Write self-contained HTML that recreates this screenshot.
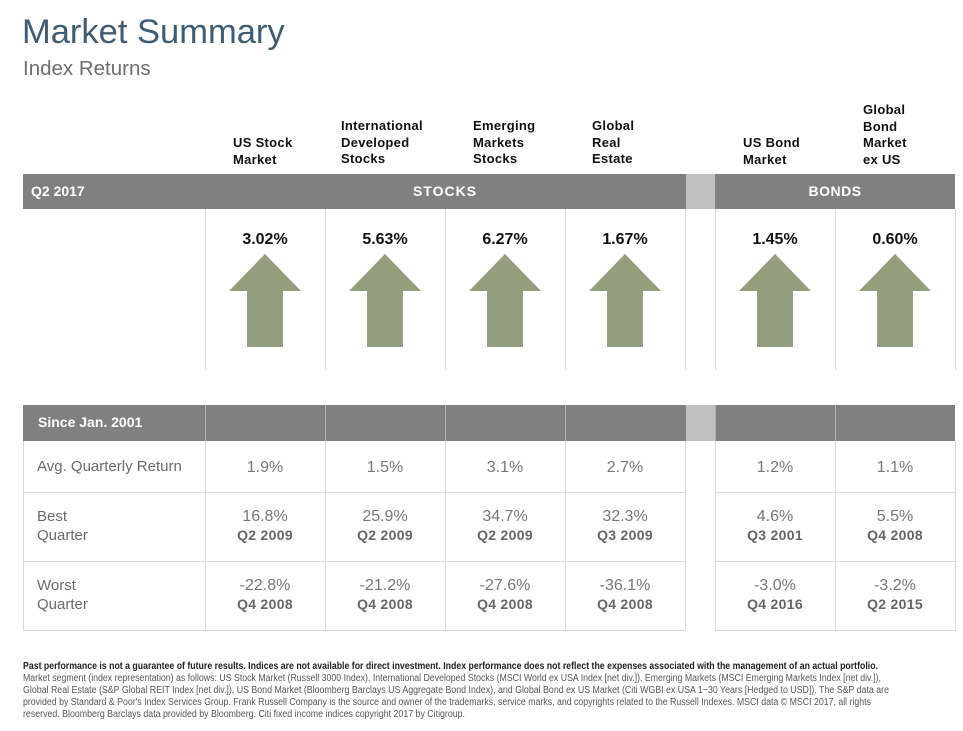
<!DOCTYPE html>
<html><head><meta charset="utf-8"><style>
body{margin:0;width:963px;height:731px;background:#fff;position:relative;overflow:hidden;font-family:"Liberation Sans",Arial,sans-serif}
.a{position:absolute}
.ch{position:absolute;font-size:13px;font-weight:bold;color:#111;line-height:16.5px;letter-spacing:0.3px}
.bar{position:absolute;background:#808080}
.vl{position:absolute;width:1px;background:#d8d8d8}
.hl{position:absolute;height:1px;background:#d8d8d8}
.lbl{position:absolute;font-size:15px;color:#6a6a6a;line-height:19px}
.val{position:absolute;width:120px;text-align:center;font-size:16px;color:#777;line-height:19px}
.val b{display:block;font-size:14px;color:#666;letter-spacing:0.3px}
</style></head><body>
<div class="a" style="left:22px;top:13px;font-size:34.5px;color:#3e5c72">Market Summary</div>
<div class="a" style="left:23px;top:57px;font-size:20.5px;color:#6e6e6e">Index Returns</div>

<div class="ch" style="left:233px;top:135px">US Stock<br>Market</div>
<div class="ch" style="left:341px;top:118px">International<br>Developed<br>Stocks</div>
<div class="ch" style="left:473px;top:118px">Emerging<br>Markets<br>Stocks</div>
<div class="ch" style="left:592px;top:118px">Global<br>Real<br>Estate</div>
<div class="ch" style="left:743px;top:135px">US Bond<br>Market</div>
<div class="ch" style="left:863px;top:102px">Global<br>Bond<br>Market<br>ex US</div>

<div class="bar" style="left:23px;top:174px;width:932px;height:35px"></div>
<div class="a" style="left:686px;top:174px;width:29px;height:35px;background:#c0c0c0"></div>
<div class="a" style="left:31px;top:183px;color:#fff;font-weight:bold;font-size:14px">Q2 2017</div>
<div class="a" style="left:205px;width:480px;text-align:center;top:183px;color:#fff;font-weight:bold;font-size:14px;letter-spacing:1px">STOCKS</div>
<div class="a" style="left:715px;width:240px;text-align:center;top:183px;color:#fff;font-weight:bold;font-size:14px;letter-spacing:0.5px">BONDS</div>

<div id="top"></div>

<div class="bar" style="left:23px;top:405px;width:932px;height:36px"></div>
<div class="a" style="left:686px;top:405px;width:29px;height:36px;background:#c0c0c0"></div>
<div class="a" style="left:38px;top:414px;color:#fff;font-weight:bold;font-size:14px">Since Jan. 2001</div>
<div id="bot"></div>

<div class="lbl" style="left:37px;top:457px">Avg. Quarterly Return</div>
<div class="lbl" style="left:37px;top:507px">Best<br>Quarter</div>
<div class="lbl" style="left:37px;top:576px">Worst<br>Quarter</div>

<svg class="a" style="left:0;top:655px" width="963" height="76">
<g font-family="Liberation Sans, Arial, sans-serif" font-size="10" fill="#555" lengthAdjust="spacingAndGlyphs">
<text x="23" y="14" textLength="855" lengthAdjust="spacingAndGlyphs" font-weight="bold" fill="#222">Past performance is not a guarantee of future results. Indices are not available for direct investment. Index performance does not reflect the expenses associated with the management of an actual portfolio.</text>
<text x="23" y="26" textLength="858" lengthAdjust="spacingAndGlyphs">Market segment (index representation) as follows: US Stock Market (Russell 3000 Index), International Developed Stocks (MSCI World ex USA Index [net div.]), Emerging Markets (MSCI Emerging Markets Index [net div.]),</text>
<text x="23" y="38" textLength="866" lengthAdjust="spacingAndGlyphs">Global Real Estate (S&amp;P Global REIT Index [net div.]), US Bond Market (Bloomberg Barclays US Aggregate Bond Index), and Global Bond ex US Market (Citi WGBI ex USA 1−30 Years [Hedged to USD]). The S&amp;P data are</text>
<text x="23" y="50" textLength="848" lengthAdjust="spacingAndGlyphs">provided by Standard &amp; Poor's Index Services Group. Frank Russell Company is the source and owner of the trademarks, service marks, and copyrights related to the Russell Indexes. MSCI data © MSCI 2017, all rights</text>
<text x="23" y="62" textLength="442" lengthAdjust="spacingAndGlyphs">reserved. Bloomberg Barclays data provided by Bloomberg. Citi fixed income indices copyright 2017 by Citigroup.</text>
</g></svg>

<script>
const categories = ["US Stock Market","International Developed Stocks","Emerging Markets Stocks","Global Real Estate","US Bond Market","Global Bond ex US"];
const q2Returns = [3.02, 5.63, 6.27, 1.67, 1.45, 0.60];
const avgReturn = [1.9, 1.5, 3.1, 2.7, 1.2, 1.1];
const bestValue = [16.8, 25.9, 34.7, 32.3, 4.6, 5.5];
const bestQuarter = ["Q2 2009","Q2 2009","Q2 2009","Q3 2009","Q3 2001","Q4 2008"];
const worstValue = [-22.8, -21.2, -27.6, -36.1, -3.0, -3.2];
const worstQuarter = ["Q4 2008","Q4 2008","Q4 2008","Q4 2008","Q4 2016","Q2 2015"];

function colX(i){ return 205 + i*120 + (i>=4 ? 30 : 0); }
const body = document.body;
function mk(cls, style){ const d=document.createElement('div'); d.className=cls; d.style.cssText=style; body.appendChild(d); return d; }

for(let i=0;i<categories.length;i++){
  const x = colX(i);
  const v = mk('vl', `left:${x}px;top:209px;height:161px`);
  
  
  const t = mk('a', `left:${x}px;top:231px;width:120px;text-align:center;font-size:16px;font-weight:bold;color:#111`);
  t.textContent = q2Returns[i].toFixed(2) + '%';
  
  
  const svgNS='http://www.w3.org/2000/svg';
  const s=document.createElementNS(svgNS,'svg');
  s.setAttribute('width','74'); s.setAttribute('height','94');
  s.style.cssText=`position:absolute;left:${x+23}px;top:254px`;
  const p=document.createElementNS(svgNS,'polygon');
  p.setAttribute('points', q2Returns[i]>=0 ? '37,0 73,37 55,37 55,93 19,93 19,37 1,37' : '37,93 73,56 55,56 55,0 19,0 19,56 1,56');
  p.setAttribute('fill','#939f7c');
  s.appendChild(p);
  
  
  body.appendChild(s);
}
[685,715,955].forEach(x=>{ const v=mk('vl',`left:${x}px;top:209px;height:161px`);
  
  });

const fmt = v => v.toFixed(1) + '%';
for(let i=0;i<categories.length;i++){
  const x=colX(i);
  const sep=mk('a',`left:${x}px;top:405px;width:1px;height:36px;background:#b0b0b0`);
  
  
  const a=mk('val',`left:${x}px;top:458px`); a.textContent=fmt(avgReturn[i]);
  
  
  const b=mk('val',`left:${x}px;top:507px`); b.innerHTML=fmt(bestValue[i])+'<b>'+bestQuarter[i]+'</b>';
  
  
  const w=mk('val',`left:${x}px;top:576px`); w.innerHTML=fmt(worstValue[i])+'<b>'+worstQuarter[i]+'</b>';
  
  
}
for(let i=0;i<=categories.length;i++){
  const x = i<categories.length ? colX(i) : 955;
  const v=mk('vl',`left:${x}px;top:441px;height:189px`);
  
  
}
[23,685].forEach(x=>{const v=mk('vl',`left:${x}px;top:441px;height:189px`);
  
  });
[492,561,630].forEach(y=>{
  [[23,663],[715,241]].forEach(([x,w])=>{
    const h=mk('hl',`left:${x}px;top:${y}px;width:${w}px`);
    
    
  });
});
</script>
</body></html>
